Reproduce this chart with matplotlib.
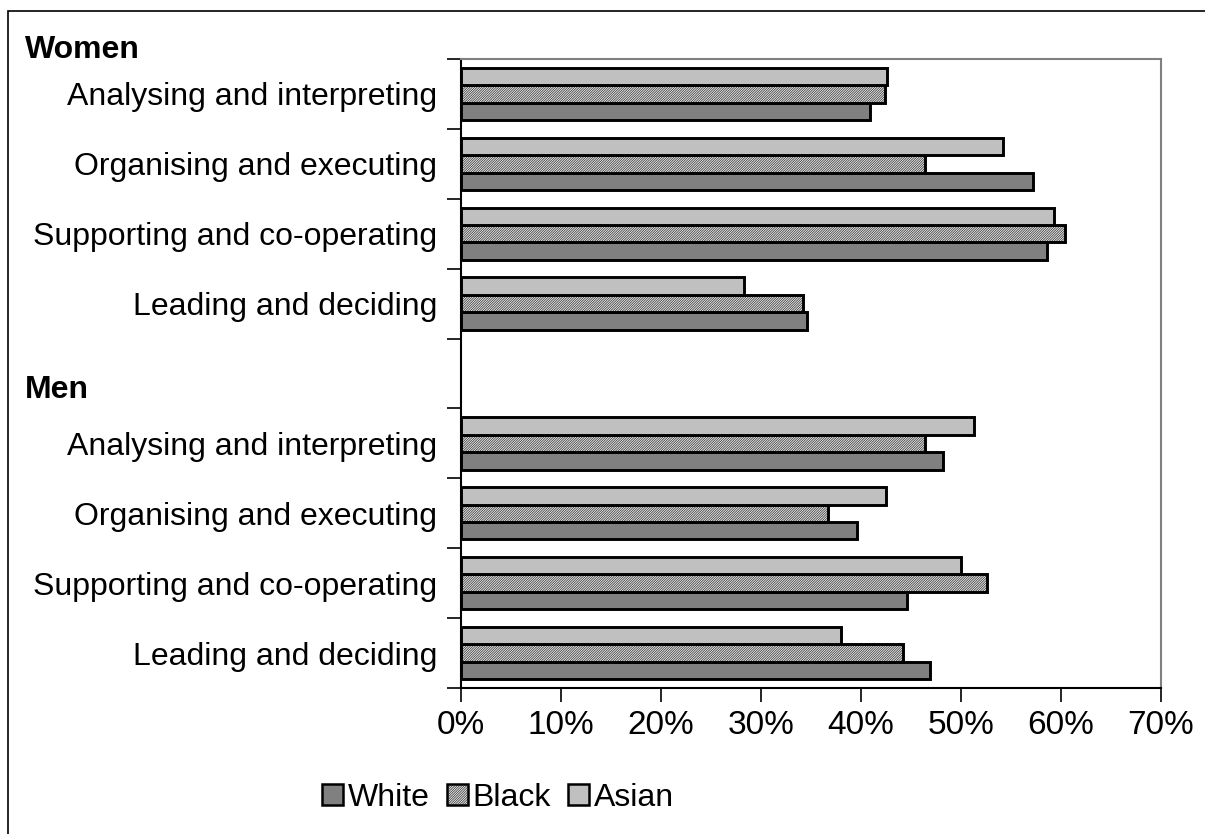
import numpy as np
import matplotlib.pyplot as plt
from matplotlib.patches import Rectangle, Patch
from matplotlib.ticker import FixedLocator, PercentFormatter

plt.rcParams['font.family'] = ['Liberation Sans', 'DejaVu Sans']
plt.rcParams['hatch.linewidth'] = 0.6

# categories, top to bottom (blank slot separates the two groups)
categories = ['Analysing and interpreting', 'Organising and executing',
              'Supporting and co-operating', 'Leading and deciding']
groups = ['Women', 'Men']

# shares (%) per group, order follows categories
white_women = [40.9, 57.2, 58.6, 34.6]
black_women = [42.4, 46.4, 60.4, 34.2]
asian_women = [42.6, 54.2, 59.3, 28.3]

white_men = [48.2, 39.6, 44.6, 46.9]
black_men = [46.4, 36.7, 52.6, 44.2]
asian_men = [51.3, 42.5, 50.0, 38.0]

fig = plt.figure(figsize=(12.05, 8.34), dpi=100)
ax = fig.add_axes([461 / 1205, 1 - 688 / 834, 700 / 1205, 629 / 834])

# outer frame of the chart area
fig.patches.append(Rectangle((8 / 1205, -0.05), 1.1, 1 - 11 / 834 + 0.05,
                             transform=fig.transFigure, fill=False,
                             edgecolor='black', linewidth=1.2))

pos_women = np.arange(4)
pos_men = np.arange(5, 9)
h = 0.25
edge = dict(edgecolor='black', linewidth=2.1)
hatch = '/' * 14
hatch_bg = '#f4f4f4'
hatch_fg = '#404040'

for pos, w, b, a in [(pos_women, white_women, black_women, asian_women),
                     (pos_men, white_men, black_men, asian_men)]:
    ax.barh(pos + h, w, height=h, color='#808080', **edge)
    # hatch drawn first in grey, black outline on top
    ax.barh(pos, b, height=h, color=hatch_bg, hatch=hatch,
            edgecolor=hatch_fg, linewidth=0)
    ax.barh(pos, b, height=h, fill=False, **edge)
    ax.barh(pos - h, a, height=h, color='#c0c0c0', **edge)

ax.set_xlim(0, 70)
ax.set_ylim(8.5, -0.5)
ax.set_xticks(np.arange(0, 71, 10))
ax.xaxis.set_major_formatter(PercentFormatter(decimals=0))
ax.tick_params(axis='x', direction='out', length=10, width=1.2, pad=6,
               labelsize=24)

ax.set_yticks(list(pos_women) + list(pos_men))
ax.set_yticklabels(categories + categories)
ax.tick_params(axis='y', length=0, pad=17, labelsize=23)
ax.yaxis.set_minor_locator(FixedLocator(np.arange(-0.5, 9, 1)))
ax.tick_params(axis='y', which='minor', direction='out', length=10, width=1.2)

for side in ['left', 'bottom']:
    ax.spines[side].set_linewidth(1.5)
    ax.spines[side].set_color('black')
for side in ['top', 'right']:
    ax.spines[side].set_linewidth(1.5)
    ax.spines[side].set_color('#808080')

fig.text(25 / 1205, 1 - 50 / 834, groups[0], fontsize=23, fontweight='bold',
         va='center', ha='left')
fig.text(25 / 1205, 1 - 390 / 834, groups[1], fontsize=23, fontweight='bold',
         va='center', ha='left')

# hatched key is a grey hatch patch stacked under a black outline patch
handles = [Patch(facecolor='#808080', edgecolor='black', linewidth=1.8),
           (Patch(facecolor=hatch_bg, edgecolor=hatch_fg, linewidth=0,
                  hatch=hatch),
            Patch(fill=False, edgecolor='black', linewidth=1.8)),
           Patch(facecolor='#c0c0c0', edgecolor='black', linewidth=1.8)]
fig.legend(handles, ['White', 'Black', 'Asian'], loc='center',
           bbox_to_anchor=(498 / 1205, 1 - 798 / 834), ncol=3, frameon=False,
           fontsize=23, handlelength=0.65, handleheight=0.65, handletextpad=0.15,
           columnspacing=0.55)

fig.savefig('out.png', dpi=100)
